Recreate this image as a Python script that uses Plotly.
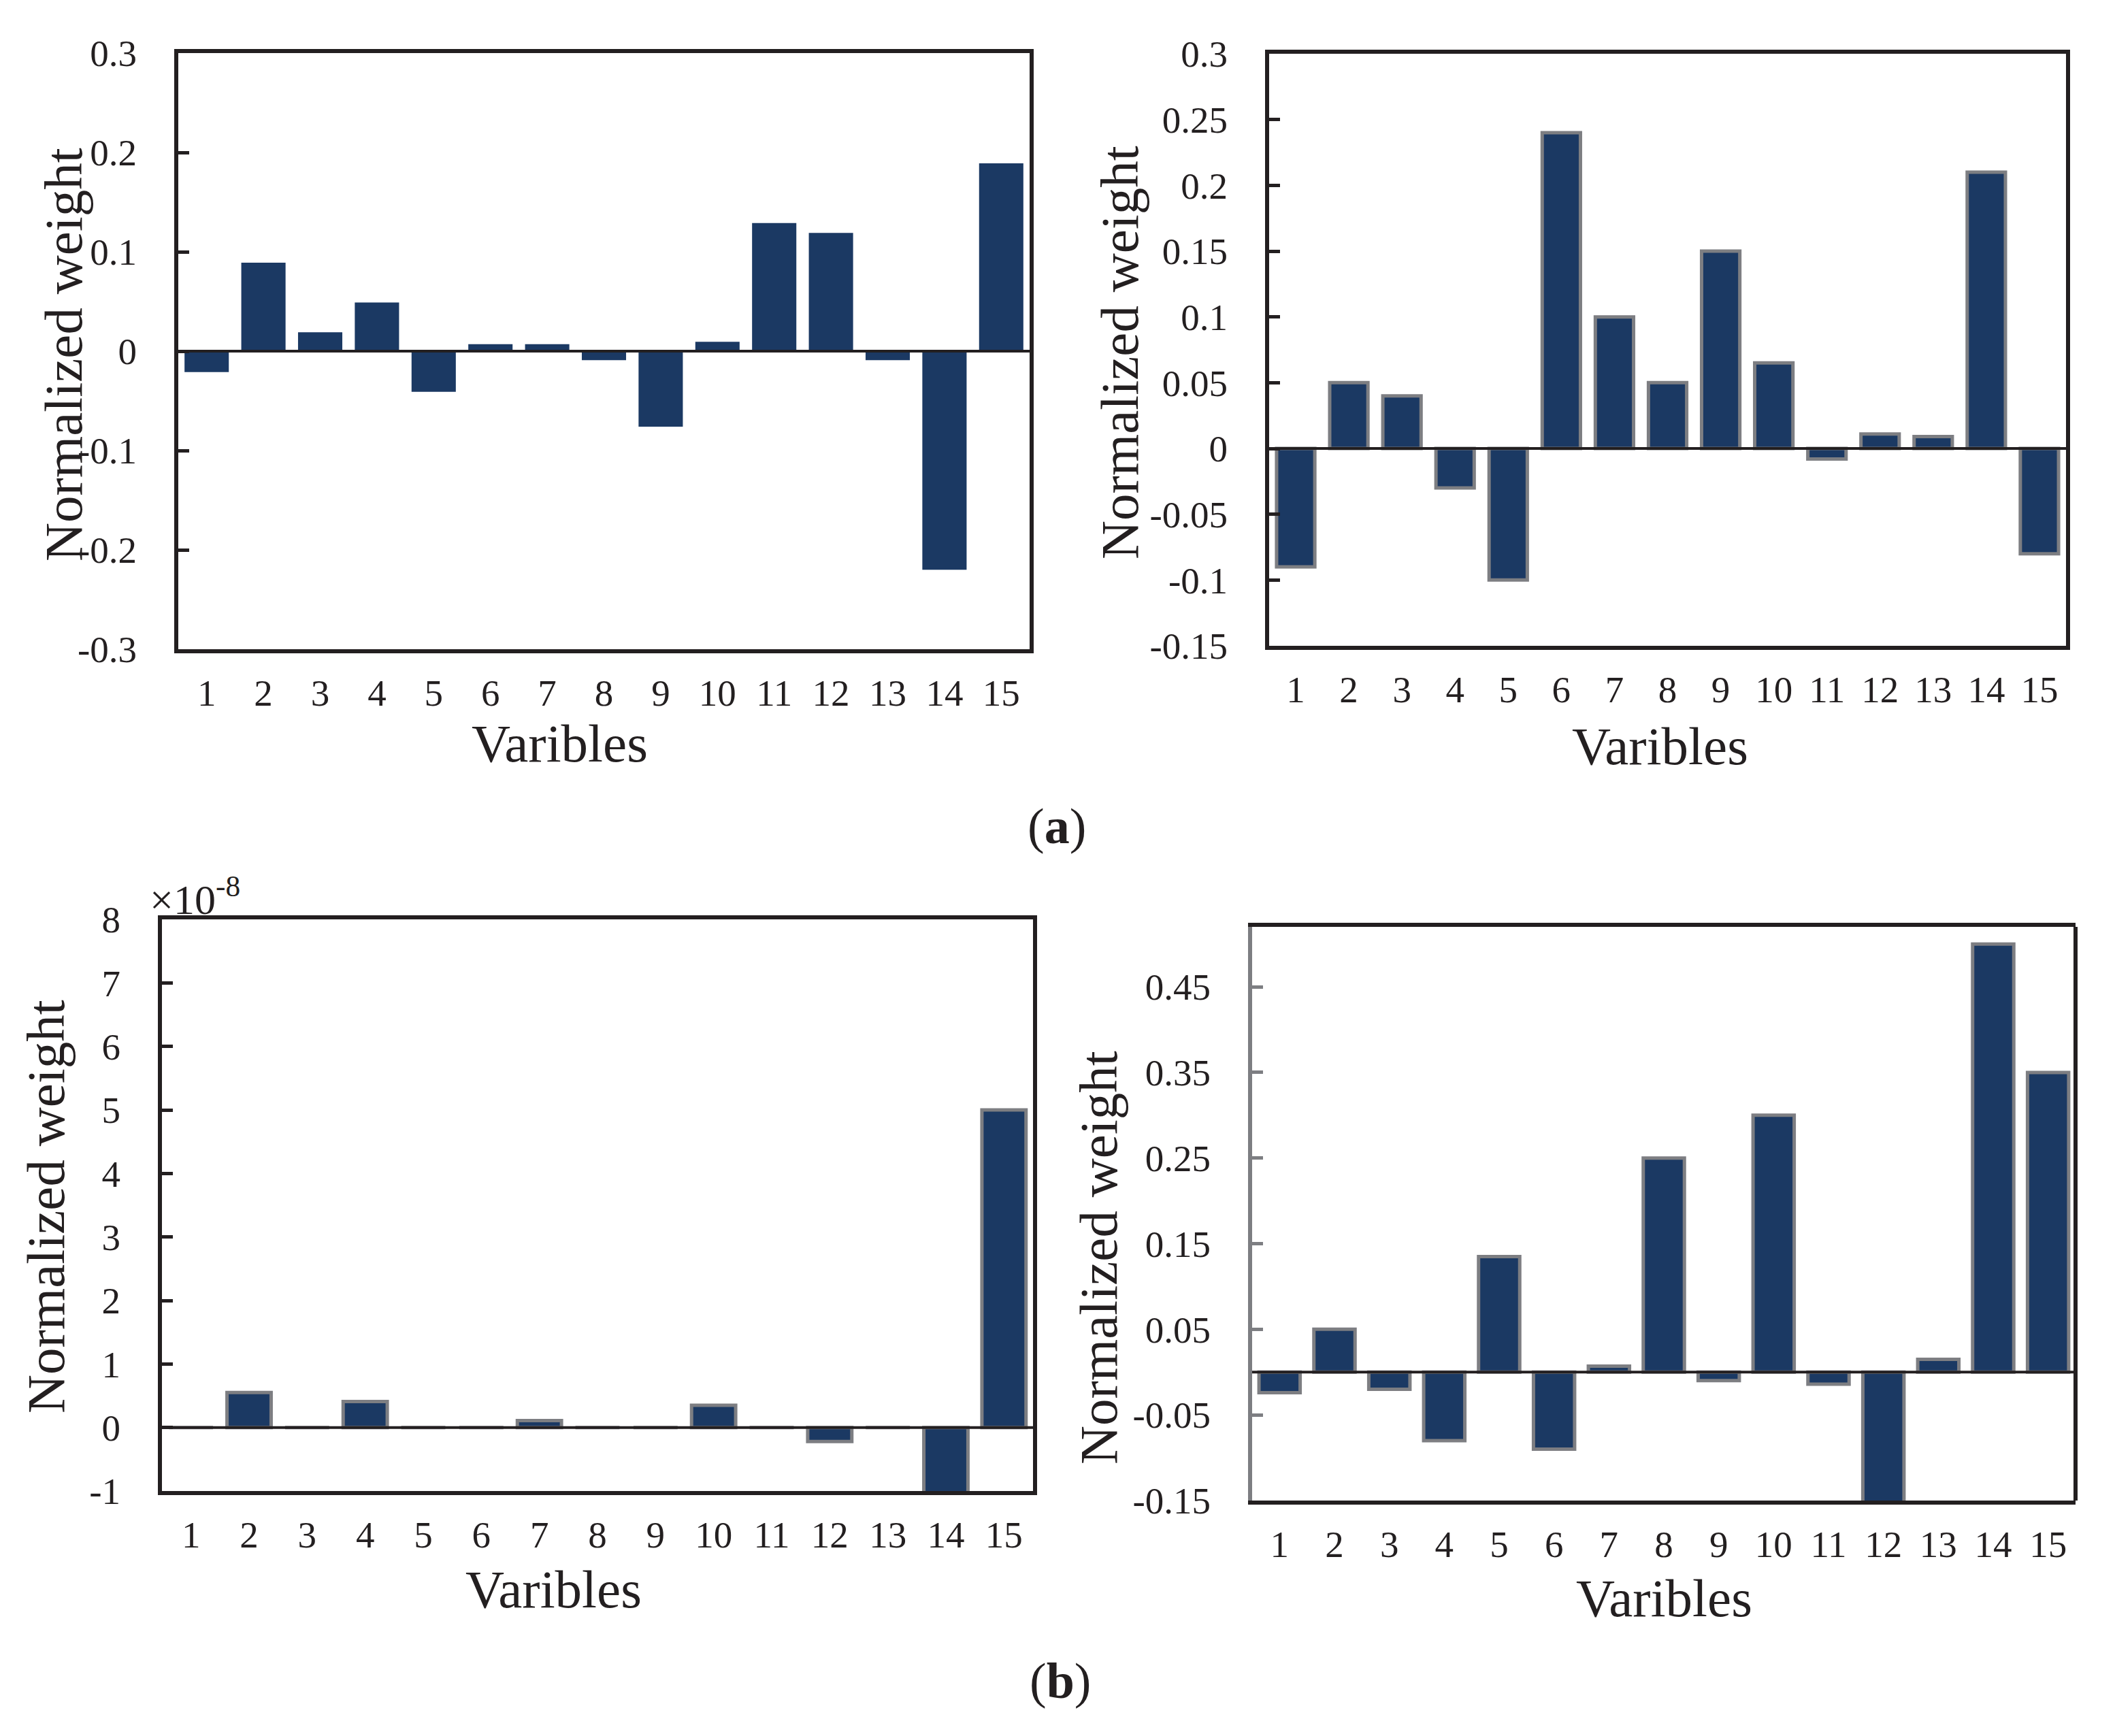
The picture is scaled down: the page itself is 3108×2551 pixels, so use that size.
import plotly.graph_objects as go

W, H = 3108, 2551
INK = "#231f20"
FILL = "#1b3963"
EDGE = "#7d7e82"
FONT = "Liberation Serif"

# data
variables = [str(i) for i in range(1, 16)]

weights_a1 = [-0.021, 0.089, 0.019, 0.049, -0.041, 0.007, 0.007, -0.009,
              -0.076, 0.0095, 0.129, 0.119, -0.009, -0.220, 0.189]
weights_a2 = [-0.090, 0.050, 0.040, -0.030, -0.100, 0.240, 0.100, 0.050,
              0.150, 0.065, -0.008, 0.011, 0.009, 0.210, -0.080]
# panel (b) left is in units of 1e-8
weights_b1 = [0.0, 0.55e-8, 0.0, 0.41e-8, 0.0, 0.0, 0.11e-8, 0.0,
              0.0, 0.35e-8, 0.0, -0.22e-8, 0.0, -1.03e-8, 5.0e-8]
weights_b2 = [-0.024, 0.050, -0.020, -0.080, 0.135, -0.090, 0.007, 0.250,
              -0.010, 0.300, -0.014, -0.155, 0.015, 0.500, 0.350]

ticks_a1 = [-0.3, -0.2, -0.1, 0, 0.1, 0.2, 0.3]
ticks_a2 = [-0.15, -0.1, -0.05, 0, 0.05, 0.1, 0.15, 0.2, 0.25, 0.3]
ticks_b1 = [-1, 0, 1, 2, 3, 4, 5, 6, 7, 8]
ticks_b2 = [-0.15, -0.05, 0.05, 0.15, 0.25, 0.35, 0.45]


def px_x(v):
    return v / W


def px_y(v):
    return 1 - v / H


# plot boxes in pixels: left, right, top, bottom
boxes = [
    (254, 1505, 70, 946),
    (1857, 3028, 71, 941),
    (230, 1510, 1343, 2183),
    (1832, 3042, 1354, 2197),
]

panels = [
    (weights_a1, 0.78, 0, [-0.3, 0.3], ticks_a1, [("%g" % t) for t in ticks_a1]),
    (weights_a2, 0.72, 5, [-0.15, 0.3], ticks_a2, [("%g" % t) for t in ticks_a2]),
    (weights_b1, 0.76, 5, [-1e-8, 8e-8], [t * 1e-8 for t in ticks_b1], [str(t) for t in ticks_b1]),
    (weights_b2, 0.75, 5, [-0.15, 0.52], ticks_b2, [("%g" % t) for t in ticks_b2]),
]

fig = go.Figure()
tickfont = dict(family=FONT, size=55, color=INK)
shapes = []

for i, (vals, bw, lw, yr, tv, tt) in enumerate(panels):
    n = "" if i == 0 else str(i + 1)
    fig.add_trace(go.Bar(
        x=variables, y=vals, width=bw,
        marker=dict(color=FILL, line=dict(color=EDGE, width=lw)),
        xaxis="x" + n, yaxis="y" + n, showlegend=False,
    ))
    l, r, t, b = boxes[i]
    grey_left = (i == 3)
    fig.layout["xaxis" + n] = dict(
        domain=[px_x(l), px_x(r)], anchor="y" + n,
        range=[-0.5, 14.5], type="category", automargin=False,
        showline=True, mirror=True, linewidth=6, linecolor=INK,
        ticks="", showgrid=False, zeroline=False,
        tickfont=tickfont, ticklabelstandoff=11,
    )
    fig.layout["yaxis" + n] = dict(
        domain=[px_y(b), px_y(t)], anchor="x" + n, automargin=False,
        range=yr, tickvals=tv, ticktext=tt,
        showline=True, mirror=not grey_left, linewidth=6,
        linecolor=EDGE if grey_left else INK,
        ticks="inside", ticklen=16, tickwidth=5,
        tickcolor=EDGE if grey_left else INK,
        showgrid=False, zeroline=False,
        tickfont=tickfont, ticklabelstandoff=44,
    )
    # zero line drawn over the bars
    shapes.append(dict(type="line", xref="x%s domain" % n, yref="y" + n,
                       x0=0, x1=1, y0=0, y1=0, layer="above",
                       line=dict(color=INK, width=4)))
    if grey_left:
        shapes.append(dict(type="line", xref="x%s domain" % n, yref="y%s domain" % n,
                           x0=1, x1=1, y0=0, y1=1, layer="above",
                           line=dict(color=INK, width=6)))

titlefont = dict(family=FONT, size=79, color=INK)
annotations = []
for (cx, cy) in [(85, 513), (1638, 510), (59, 1765), (1606, 1840)]:
    annotations.append(dict(text="Normalized weight", x=px_x(cx), y=px_y(cy),
                            xref="paper", yref="paper", textangle=-90,
                            showarrow=False, font=titlefont,
                            xanchor="center", yanchor="middle"))
for (cx, cy) in [(814, 1084), (2431, 1089), (805, 2327), (2437, 2340)]:
    annotations.append(dict(text="Varibles", x=px_x(cx), y=px_y(cy),
                            xref="paper", yref="paper", showarrow=False,
                            font=titlefont, xanchor="center", yanchor="middle"))
for (label, cx, cy) in [("a", 1545, 1206), ("b", 1550, 2462)]:
    annotations.append(dict(text="(<b>%s</b>)" % label, x=px_x(cx), y=px_y(cy),
                            xref="paper", yref="paper", showarrow=False,
                            font=dict(family=FONT, size=74, color=INK),
                            xanchor="center", yanchor="middle"))
annotations.append(dict(text="×10<sup>-8</sup>", x=px_x(210), y=px_y(1350),
                        xref="paper", yref="paper", showarrow=False,
                        font=dict(family=FONT, size=62, color=INK),
                        xanchor="left", yanchor="bottom"))

fig.update_layout(
    width=W, height=H,
    margin=dict(l=0, r=0, t=0, b=0, autoexpand=False),
    paper_bgcolor="white", plot_bgcolor="white",
    shapes=shapes, annotations=annotations,
    bargap=0.2,
)

fig.write_html("out.html")
